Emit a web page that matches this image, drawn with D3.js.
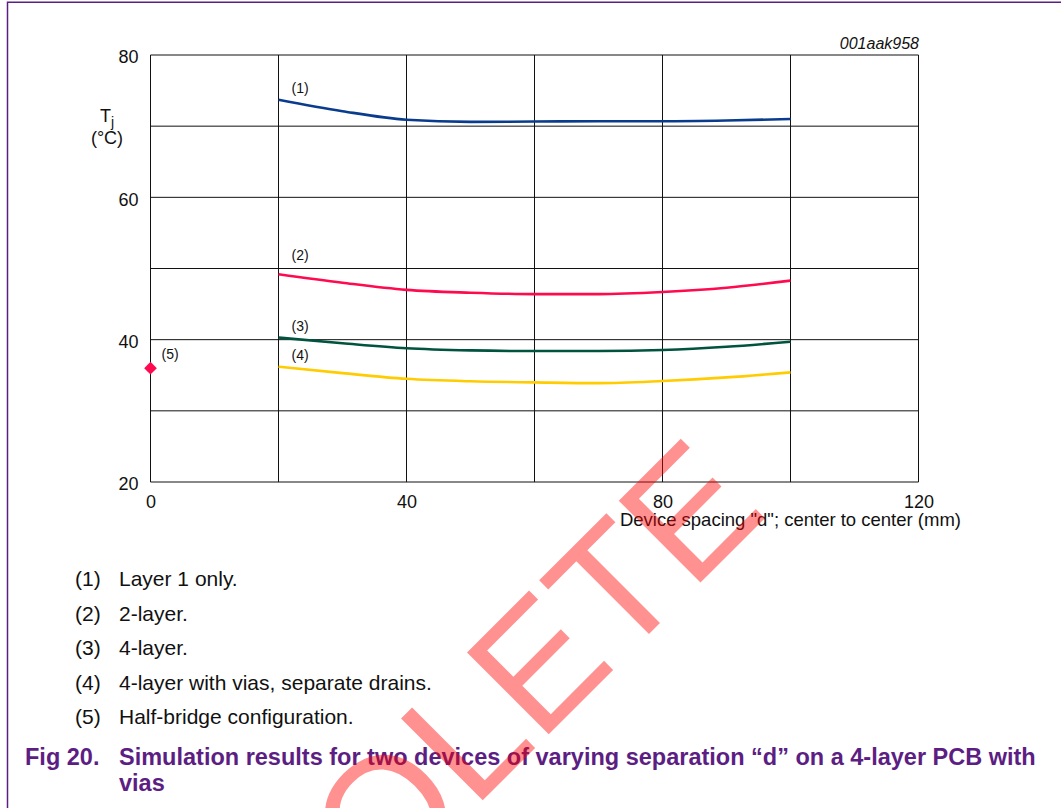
<!DOCTYPE html>
<html>
<head>
<meta charset="utf-8">
<script src="https://cdn.jsdelivr.net/npm/d3@7"></script>
<style>
    body { margin: 0; background: #fff; }
    svg { display: block; font-family: "Liberation Sans", Arial, sans-serif; }
</style>
</head>
<body>
<div id="chart"></div>
<script>

// Device spacing "d" (mm)
const spacing = [ 20, 30, 40, 50, 60, 70, 80, 90, 100 ];

// Tj (°C) per configuration
const layer1Only = [ 73.7, 72.1, 70.9, 70.6, 70.65, 70.7, 70.7, 70.8, 71.0 ];
const twoLayer   = [ 49.2, 48.0, 47.0, 46.6, 46.4, 46.4, 46.7, 47.3, 48.3 ];
const fourLayer  = [ 40.3, 39.5, 38.8, 38.5, 38.4, 38.4, 38.55, 39.0, 39.7 ];
const fourVias   = [ 36.2, 35.3, 34.5, 34.15, 34.0, 33.9, 34.2, 34.7, 35.4 ];

// half-bridge single point
const halfBridge = [ { d : 0, tj : 36.0 } ];

const xTicks = [ 0, 40, 80, 120 ];
const yTicks = [ 20, 40, 60, 80 ];
const xGrid  = [ 0, 20, 40, 60, 80, 100, 120 ];
const yGrid  = [ 20, 30, 40, 50, 60, 70, 80 ];

const notes = [
    [ '(1)', 'Layer 1 only.' ],
    [ '(2)', '2-layer.' ],
    [ '(3)', '4-layer.' ],
    [ '(4)', '4-layer with vias, separate drains.' ],
    [ '(5)', 'Half-bridge configuration.' ]
];

const W = 1061, H = 808;
const purple = '#5c1e83';

const svg = d3.select('#chart').append('svg')
    .attr('width', W)
    .attr('height', H);

svg.append('rect')
    .attr('width', W)
    .attr('height', H)
    .attr('fill', 'white');

// page frame
svg.append('path')
    .attr('d', `M7.5,${H} V2.2 H${W}`)
    .attr('fill', 'none')
    .attr('stroke', '#5b1f82')
    .attr('stroke-width', 1.5);

const x = d3.scaleLinear().domain([ 0, 120 ]).range([ 150.5, 918.5 ]);
const y = d3.scaleLinear().domain([ 20, 80 ]).range([ 482, 55 ]);

const plot = svg.append('g');

// grid
plot.selectAll('.vgrid').data(xGrid).join('line')
    .attr('x1', d => x(d)).attr('x2', d => x(d))
    .attr('y1', y(20)).attr('y2', y(80))
    .attr('stroke', '#111').attr('stroke-width', 1);

plot.selectAll('.hgrid').data(yGrid).join('line')
    .attr('x1', x(0)).attr('x2', x(120))
    .attr('y1', d => y(d)).attr('y2', d => y(d))
    .attr('stroke', '#111').attr('stroke-width', 1);

// axes (labels only)
const yAxis = plot.append('g')
    .attr('transform', `translate(${x(0)},0)`)
    .call(d3.axisLeft(y).tickValues(yTicks).tickSize(0).tickPadding(12));

const xAxis = plot.append('g')
    .attr('transform', `translate(0,${y(20)})`)
    .call(d3.axisBottom(x).tickValues(xTicks).tickSize(0).tickPadding(13));

[ yAxis, xAxis ].forEach( a => {
    a.select('.domain').remove();
    a.selectAll('text')
        .attr('font-family', '"Liberation Sans", Arial, sans-serif')
        .attr('font-size', 18)
        .attr('fill', '#111');
});
yAxis.selectAll('text').attr('dy', '0.44em');

// series
const series = [
    { name : '(1)', values : layer1Only, color : '#0a3c8e', lift : 7 },
    { name : '(2)', values : twoLayer,   color : '#ff0a4e', lift : 14 },
    { name : '(3)', values : fourLayer,  color : '#00533e', lift : 7 },
    { name : '(4)', values : fourVias,   color : '#ffcc00', lift : 7 }
];

const line = d3.line()
    .x( (d, i) => x(spacing[i]) )
    .y( d => y(d) )
    .curve(d3.curveMonotoneX);

series.forEach( s => {
    plot.append('path')
        .datum(s.values)
        .attr('d', line)
        .attr('fill', 'none')
        .attr('stroke', s.color)
        .attr('stroke-width', 2.6);

    plot.append('text')
        .attr('x', x(spacing[0]) + 13)
        .attr('y', y(s.values[0]) - s.lift)
        .attr('font-size', 14)
        .attr('fill', '#111')
        .text(s.name);
});

plot.selectAll('.hb').data(halfBridge).join('path')
    .attr('d', d3.symbol(d3.symbolSquare, 80))
    .attr('transform', d => `translate(${x(d.d)},${y(d.tj)}) rotate(45)`)
    .attr('fill', '#ff0a4e');

plot.append('text')
    .attr('x', x(halfBridge[0].d) + 11)
    .attr('y', y(halfBridge[0].tj) - 9)
    .attr('font-size', 14)
    .attr('fill', '#111')
    .text('(5)');

// axis titles
const yTitle = svg.append('text')
    .attr('x', 107).attr('y', 122)
    .attr('text-anchor', 'middle')
    .attr('font-size', 18)
    .attr('fill', '#111');
yTitle.append('tspan').text('T');
yTitle.append('tspan').attr('font-size', 14).attr('dy', 5).text('j');

svg.append('text')
    .attr('x', 107).attr('y', 144)
    .attr('text-anchor', 'middle')
    .attr('font-size', 18)
    .attr('fill', '#111')
    .text('(°C)');

svg.append('text')
    .attr('x', 961).attr('y', 526)
    .attr('text-anchor', 'end')
    .attr('font-size', 18.5)
    .attr('fill', '#111')
    .text('Device spacing "d"; center to center (mm)');

svg.append('text')
    .attr('x', 919).attr('y', 49)
    .attr('text-anchor', 'end')
    .attr('font-size', 16)
    .attr('font-style', 'italic')
    .attr('fill', '#111')
    .text('001aak958');

// notes under the chart
const noteRows = svg.selectAll('.note').data(notes).join('g')
    .attr('transform', (d, i) => `translate(0,${586 + i * 34.5})`);

noteRows.append('text')
    .attr('x', 75)
    .attr('font-size', 21)
    .attr('fill', '#111')
    .text(d => d[0]);

noteRows.append('text')
    .attr('x', 119)
    .attr('font-size', 21)
    .attr('fill', '#111')
    .text(d => d[1]);

// caption
const caption = svg.append('g')
    .attr('font-size', 23.5)
    .attr('font-weight', 'bold')
    .attr('fill', purple);

caption.append('text').attr('x', 25).attr('y', 765).text('Fig 20.');
caption.append('text').attr('x', 119).attr('y', 765)
    .text('Simulation results for two devices of varying separation \u201cd\u201d on a 4-layer PCB with');
caption.append('text').attr('x', 119).attr('y', 791).text('vias');

// watermark on top
svg.append('text')
    .attr('transform', 'translate(770,513) rotate(-45)')
    .attr('text-anchor', 'end')
    .attr('font-size', 168)
    .attr('fill', '#ff0000')
    .attr('fill-opacity', 0.43)
    .text('OBSOLETE');

</script>
</body>
</html>
